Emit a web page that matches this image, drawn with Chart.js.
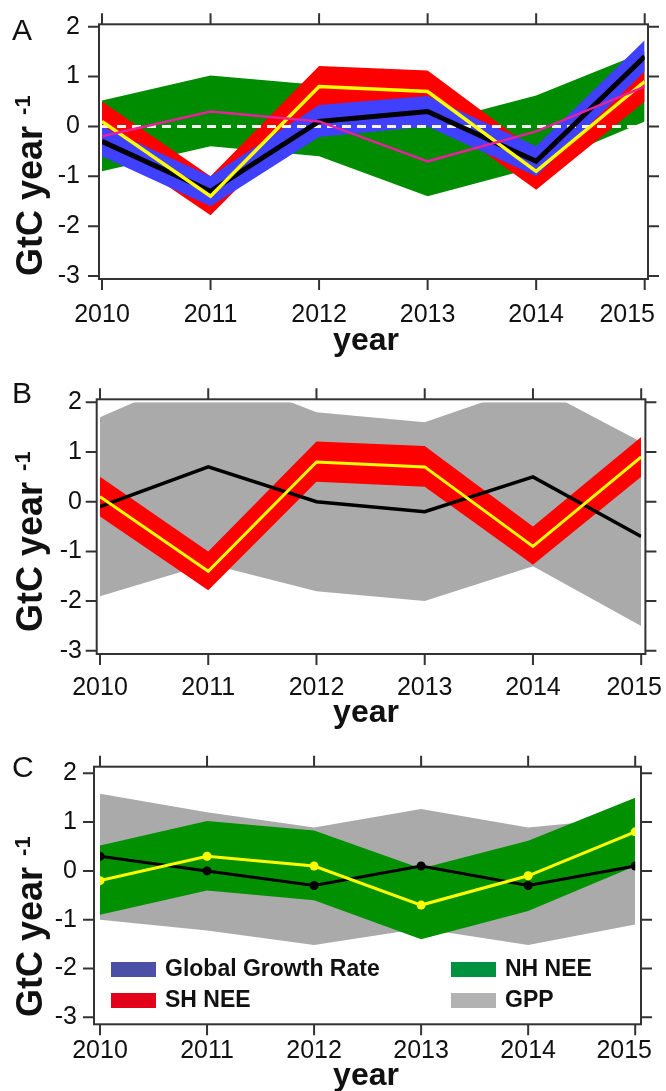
<!DOCTYPE html>
<html>
<head>
<meta charset="utf-8">
<script src="https://cdn.jsdelivr.net/npm/chart.js@4.4.1/dist/chart.umd.min.js"></script>
<style>
  html, body { margin: 0; padding: 0; background: #ffffff; }
  #wrap { position: relative; width: 666px; height: 1091px; overflow: hidden; }
  canvas { position: absolute; left: 0; }
</style>
</head>
<body>
<div id="wrap">
  <canvas id="panelA" width="666" height="360" style="top:0px"></canvas>
  <canvas id="panelB" width="666" height="370" style="top:360px"></canvas>
  <canvas id="panelC" width="666" height="361" style="top:730px"></canvas>
</div>
<script>
// ---- shared axes ----
const years = [2010, 2011, 2012, 2013, 2014, 2015];
const yTicks = [-3, -2, -1, 0, 1, 2];

// ---- global growth rate (blue band, black line) ----
const globalRate  = [-0.3, -1.3, 0.1, 0.3, -0.7, 1.4];
const globalUpper = [0.0, -1.0, 0.43, 0.61, -0.4, 1.73];
const globalLower = [-0.6, -1.6, -0.21, 0.0, -1.0, 1.1];

// ---- southern hemisphere NEE (red band, yellow line) ----
const shNee   = [0.1, -1.4, 0.8, 0.7, -0.9, 0.9];
const shUpper = [0.5, -1.0, 1.21, 1.12, -0.5, 1.3];
const shLower = [-0.3, -1.78, 0.4, 0.3, -1.27, 0.5];

// ---- northern hemisphere NEE (green band, magenta / yellow line) ----
const nhNee   = [-0.2, 0.3, 0.1, -0.7, -0.1, 0.8];
const nhUpper = [0.52, 1.02, 0.83, 0.05, 0.62, 1.5];
const nhLower = [-0.9, -0.4, -0.6, -1.4, -0.82, 0.1];

const zeroLine = [0, 0, 0, 0, 0, 0];

// ---- GPP, panel B ----
const gppB      = [-0.1, 0.7, 0.0, -0.2, 0.5, -0.7];
const gppUpperB = [1.7, 2.65, 1.8, 1.6, 2.35, 1.2];
const gppLowerB = [-1.9, -1.25, -1.8, -2.0, -1.3, -2.5];

// ---- GPP, panel C ----
const gppC      = [0.3, 0.0, -0.3, 0.1, -0.3, 0.1];
const gppUpperC = [1.58, 1.2, 0.89, 1.27, 0.89, 1.1];
const gppLowerC = [-1.0, -1.22, -1.52, -1.18, -1.52, -1.1];

// ---- legend ----
const legendLabels = ['Global Growth Rate', 'SH NEE', 'NH NEE', 'GPP'];
const legendColors = ['#4b4fa6', '#e2001a', '#00923f', '#b2b2b2'];

const FONT = '"Liberation Sans", Arial, Helvetica, sans-serif';
const NONE = 'rgba(0,0,0,0)';

function pts(arr) {
  return arr.map((v, i) => ({ x: years[i], y: v }));
}

function band(upper, lower, color, order) {
  return [
    { data: pts(upper), fill: '+1', backgroundColor: color, borderColor: NONE,
      borderWidth: 0, pointRadius: 0, order: order },
    { data: pts(lower), fill: false, backgroundColor: color, borderColor: NONE,
      borderWidth: 0, pointRadius: 0, order: order }
  ];
}

function line(values, color, width, order, extra) {
  return Object.assign({
    data: pts(values), fill: false, borderColor: color, backgroundColor: color,
    borderWidth: width, pointRadius: 0, tension: 0, order: order,
    borderJoinStyle: 'miter', borderCapStyle: 'butt'
  }, extra || {});
}

// frame, ticks, tick labels, axis titles, panel letter, legend
const panelDecor = {
  id: 'panelDecor',
  afterDraw(chart, args, o) {
    const ctx = chart.ctx;
    const a = chart.chartArea;
    const xs = chart.scales.x, ys = chart.scales.y;
    const L = a.left - o.pad[0], R = a.right + o.pad[1];
    const T = a.top - o.pad[2], B = a.bottom + o.pad[3];
    const tick = 11;
    ctx.save();
    ctx.strokeStyle = '#333333';
    ctx.lineWidth = 2;
    ctx.strokeRect(L, T, R - L, B - T);
    ctx.beginPath();
    yTicks.forEach(v => {
      const py = ys.getPixelForValue(v);
      ctx.moveTo(L - tick, py); ctx.lineTo(L, py);
      ctx.moveTo(R, py); ctx.lineTo(R + tick, py);
    });
    years.forEach(v => {
      const px = xs.getPixelForValue(v);
      ctx.moveTo(px, T - tick); ctx.lineTo(px, T);
      ctx.moveTo(px, B); ctx.lineTo(px, B + tick);
    });
    ctx.stroke();

    // tick labels
    ctx.fillStyle = '#111111';
    ctx.font = '25px ' + FONT;
    ctx.textAlign = 'right';
    ctx.textBaseline = 'middle';
    yTicks.forEach(v => {
      ctx.fillText(String(v), o.yLabelRight, ys.getPixelForValue(v));
    });
    ctx.textAlign = 'left';
    ctx.textBaseline = 'alphabetic';
    years.forEach(v => {
      const s = String(v);
      const w = ctx.measureText(s).width;
      let left = xs.getPixelForValue(v) - w / 2;
      if (left + w > o.lastRight) left = o.lastRight - w;
      ctx.fillText(s, left, o.xLabelBase);
    });

    // x title
    ctx.font = 'bold 32px ' + FONT;
    ctx.textAlign = 'center';
    ctx.fillText('year', 366, o.yearBase);

    // y title, rotated, with superscript
    ctx.save();
    ctx.translate(42, o.titleStart);
    ctx.rotate(-Math.PI / 2);
    ctx.textAlign = 'left';
    ctx.font = 'bold 36px ' + FONT;
    const main = 'GtC year';
    ctx.fillText(main, 0, 0);
    const mw = ctx.measureText(main).width;
    ctx.font = 'bold 22px ' + FONT;
    ctx.fillText('-1', mw + 11, -12);
    ctx.restore();

    // panel letter
    ctx.font = '30px ' + FONT;
    ctx.textAlign = 'left';
    ctx.fillText(o.letter, 12, o.letterBase);

    // legend
    if (o.legend) {
      const cols = [111, 451];
      const rows = [232, 263];
      const order = [[0, 0], [0, 1], [1, 0], [1, 1]];
      ctx.font = 'bold 23px ' + FONT;
      ctx.textBaseline = 'middle';
      legendLabels.forEach((lab, i) => {
        const c = cols[order[i][0]], r = rows[order[i][1]];
        ctx.fillStyle = legendColors[i];
        ctx.fillRect(c, r, 45, 15);
        ctx.fillStyle = '#111111';
        ctx.fillText(lab, c + 54, r + 8);
      });
    }
    ctx.restore();
  }
};

function makeChart(id, datasets, pad, decor) {
  return new Chart(document.getElementById(id), {
    type: 'line',
    data: { datasets: datasets },
    options: {
      responsive: false,
      animation: false,
      devicePixelRatio: 1,
      events: [],
      layout: { padding: pad },
      scales: {
        x: { type: 'linear', min: 2010, max: 2015, display: false },
        y: { type: 'linear', min: -3, max: 2, display: false }
      },
      plugins: { legend: { display: false }, tooltip: { enabled: false }, panelDecor: decor }
    },
    plugins: [panelDecor]
  });
}

// Panel A: growth rate and hemispheric NEE
makeChart('panelA', [
  line(nhNee, '#e5219c', 2.5, 1),
  line(shNee, '#ffff00', 3.5, 2),
  line(globalRate, '#000000', 5, 3),
  line(zeroLine, '#f2f2f2', 3, 4, { borderDash: [9, 6] }),
  ...band(globalUpper, globalLower, '#4040ff', 5),
  ...band(shUpper, shLower, '#ff0000', 6),
  ...band(nhUpper, nhLower, '#008c00', 7)
], { left: 102, right: 21.3, top: 26.7, bottom: 84 }, {
  pad: [3, 3.3, 2.4, 3], yLabelRight: 80, xLabelBase: 322, lastRight: 655,
  yearBase: 349.6, titleStart: 276, letter: 'A', letterBase: 40, legend: false
});

// Panel B: SH NEE against GPP
makeChart('panelB', [
  line(shNee, '#ffff00', 3, 1),
  line(gppB, '#000000', 3.5, 2),
  ...band(shUpper, shLower, '#ff0000', 3),
  ...band(gppUpperB, gppLowerB, '#aaaaaa', 4)
], { left: 100, right: 24.8, top: 42.3, bottom: 79.2 }, {
  pad: [3.3, 4.2, 3, 3.2], yLabelRight: 82, xLabelBase: 335, lastRight: 662,
  yearBase: 361.6, titleStart: 272, letter: 'B', letterBase: 43, legend: false
});

// Panel C: NH NEE against GPP, with legend
makeChart('panelC', [
  line(nhNee, '#ffff00', 3, 1, { pointRadius: 4.5, pointBackgroundColor: '#ffff00', pointBorderWidth: 0 }),
  line(gppC, '#000000', 3, 2, { pointRadius: 4.5, pointBackgroundColor: '#000000', pointBorderWidth: 0 }),
  ...band(nhUpper, nhLower, '#009000', 3),
  ...band(gppUpperC, gppLowerC, '#aaaaaa', 4)
], { left: 100, right: 30.8, top: 43.3, bottom: 73.7 }, {
  pad: [6, 5.8, 6.6, 7], yLabelRight: 77, xLabelBase: 328, lastRight: 652,
  yearBase: 354.6, titleStart: 287, letter: 'C', letterBase: 47, legend: true
});
</script>
</body>
</html>
